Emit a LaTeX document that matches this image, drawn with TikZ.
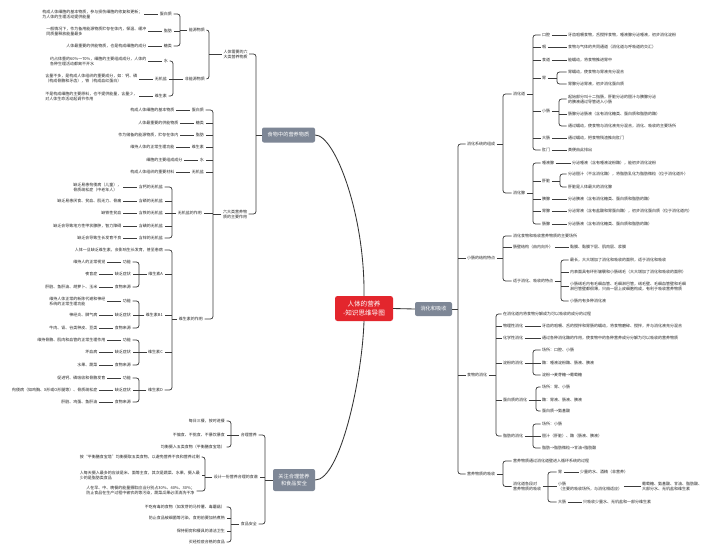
\documentclass[tikz,border=0pt]{standalone}
\usepackage{fontspec}
\setmainfont{Noto Sans CJK SC}
\usetikzlibrary{positioning}
\definecolor{lncol}{HTML}{3C3C3C}
\definecolor{gboxcol}{HTML}{7E8796}
\definecolor{rboxcol}{HTML}{E3262D}
\definecolor{txcol}{HTML}{262626}
\tikzset{
  lbl/.style={font=\fontsize{4}{5}\selectfont, text=txcol, inner sep=1.5pt},
  lt/.style={lbl, anchor=east, align=left},
  rt/.style={lbl, anchor=west, align=left},
  ct/.style={lbl, anchor=center, align=center},
  br/.style={draw=lncol, line width=0.75pt},
  cv/.style={draw=black!80, line width=0.85pt},
  gb/.style={fill=gboxcol, text=white, rounded corners=2pt, font=\fontsize{5.2}{6.5}\selectfont, align=center, inner sep=0pt},
  rootbox/.style={fill=rboxcol, text=white, rounded corners=2.5pt, minimum width=58pt, minimum height=25pt, font=\fontsize{6.6}{8.5}\selectfont, align=center, inner sep=0pt},
}
% left bracket: parent, bracket x, first child, last child, middle children
\newcommand\lbr[5]{%
  \draw[br] (#1.west) -- (#2,0 |- #1.west);
  \draw[br,rounded corners=2.5pt] (#3.east) -| (#2,0 |- #4.east) -- (#4.east);
  \def\mytmp{#5}\ifx\mytmp\empty\else
  \foreach \ch in {#5}{\draw[br] (#2,0 |- \ch.east) -- (\ch.east);}\fi}
% right bracket
\newcommand\rbr[5]{%
  \draw[br] (#1.east) -- (#2,0 |- #1.east);
  \draw[br,rounded corners=2.5pt] (#3.west) -| (#2,0 |- #4.west) -- (#4.west);
  \def\mytmp{#5}\ifx\mytmp\empty\else
  \foreach \ch in {#5}{\draw[br] (#2,0 |- \ch.west) -- (\ch.west);}\fi}
\newcommand\ld[2]{\draw[br] (#1.east) -- (#2.west);}
\begin{document}
\begin{tikzpicture}[x=1pt,y=-1pt]
\fill[white] (0,0) rectangle (720,555);
\useasboundingbox (0,0) rectangle (720,555);

% main boxes
\node[rootbox] (root) at (364,308.5) {人体的营养\\-知识思维导图};
\node[gb, minimum width=53pt, minimum height=15pt] (food) at (288.5,135) {食物中的营养物质};
\node[gb, minimum width=42pt, minimum height=22pt] (care) at (294,480) {关注合理营养\\和食品安全};
\node[gb, minimum width=37pt, minimum height=14pt] (dig) at (433.5,309) {消化和吸收};

\draw[cv] (food.east) .. controls (335,135) and (365,215) .. (root.north);
\draw[cv] (root.south) .. controls (362,380) and (340,480) .. (care.east);
\draw[cv] (root.east) -- (dig.west);

% ===== LEFT: 食物中的营养物质 =====
\node[ct] (six) at (235.5,54) {人体需要的六\\大类营养物质};
\node[lt] (ny) at (206.5,30) {能源物质};
\node[lt] (fny) at (206.5,79) {非能源物质};
\node[lt] (a1) at (173.5,14) {蛋白质};
\node[lt] (a2) at (173.5,31) {脂肪};
\node[lt] (a3) at (173.5,46) {糖类};
\node[lt,left=14pt of a1] (a1d) {构成人体细胞的基本物质，参与损伤细胞的修复和更新；\\为人体的生理活动提供能量};
\node[lt,left=14pt of a2] (a2d) {一般情况下，作为备用能源物质贮存在体内，保温、缓冲\\同质量释放能量最多};
\node[lt,left=14pt of a3] (a3d) {人体最重要的供能物质，也是构成细胞的成分};
\node[lt] (b1) at (169.5,61) {水};
\node[lt] (b2) at (168.5,79) {无机盐};
\node[lt] (b3) at (168.5,96) {维生素};
\node[lt,left=14pt of b1] (b1d) {约占体重的60\%～70\%，细胞的主要组成成分，人体的\\各种生理活动都离不开水};
\node[lt,left=14pt of b2] (b2d) {含量不多，是构成人体组织的重要成分，如：钙、磷\\（构成骨骼和牙齿），铁（构成血红蛋白）};
\node[lt,left=14pt of b3] (b3d) {不是构成细胞的主要原料，也不提供能量，含量少，\\对人体生命活动起调节作用};
\lbr{six}{209}{ny}{fny}{}
\lbr{ny}{180}{a1}{a3}{a2}
\lbr{fny}{173}{b1}{b3}{b2}
\ld{a1d}{a1}\ld{a2d}{a2}\ld{a3d}{a3}
\ld{b1d}{b1}\ld{b2d}{b2}\ld{b3d}{b3}

\node[ct] (effect) at (235,214) {六大类营养物\\质的主要作用};
\node[lt] (c1) at (205.5,110) {蛋白质};
\node[lt] (c2) at (205.5,123) {糖类};
\node[lt] (c3) at (205.5,135) {脂肪};
\node[lt] (c4) at (205.5,147) {维生素};
\node[lt] (c5) at (205.5,160) {水};
\node[lt] (c6) at (205.5,172) {无机盐};
\node[lt,left=14pt of c1] (c1d) {构成人体细胞的基本物质};
\node[lt,left=14pt of c2] (c2d) {人体最重要的供能物质};
\node[lt,left=14pt of c3] (c3d) {作为储备的能源物质，贮存在体内};
\node[lt,left=14pt of c4] (c4d) {维持人体的正常生理功能};
\node[lt,left=14pt of c5] (c5d) {细胞的主要组成成分};
\node[lt,left=14pt of c6] (c6d) {构成人体组织的重要材料};
\ld{c1d}{c1}\ld{c2d}{c2}\ld{c3d}{c3}\ld{c4d}{c4}\ld{c5d}{c5}\ld{c6d}{c6}
\node[lt] (inorg) at (203.5,213) {无机盐的作用};
\node[lt] (vit) at (204.5,319) {维生素的作用};
\lbr{effect}{213}{c1}{vit}{c2,c3,c4,c5,c6,inorg}
\lbr{food}{256}{six}{effect}{}

\node[lt] (d1) at (164.5,187) {含钙的无机盐};
\node[lt] (d2) at (164.5,201) {含磷的无机盐};
\node[lt] (d3) at (164.5,213) {含铁的无机盐};
\node[lt] (d4) at (164.5,226) {含碘的无机盐};
\node[lt] (d5) at (164.5,238) {含锌的无机盐};
\node[lt,left=14pt of d1] (d1d) {缺乏易患佝偻病（儿童），\\骨质疏松症（中老年人）};
\node[lt,left=14pt of d2] (d2d) {缺乏易患厌食、贫血、肌无力、骨痛};
\node[lt,left=14pt of d3] (d3d) {缺铁性贫血};
\node[lt,left=14pt of d4] (d4d) {缺乏会导致地方性甲状腺肿，智力障碍};
\node[lt,left=14pt of d5] (d5d) {缺乏会导致生长发育不良};
\ld{d1d}{d1}\ld{d2d}{d2}\ld{d3d}{d3}\ld{d4d}{d4}\ld{d5d}{d5}
\lbr{inorg}{172}{d1}{d5}{d2,d3,d4}

\node[lt] (v0) at (164.5,250) {人体一旦缺乏维生素，会影响生长发育，甚至患病};
\node[lt] (vA) at (164.5,274) {维生素A};
\node[lt] (vB) at (164.5,315) {维生素B1};
\node[lt] (vC) at (164.5,352) {维生素C};
\node[lt] (vD) at (164.5,390) {维生素D};
\lbr{vit}{172}{v0}{vD}{vA,vB,vC}

\node[lt] (vA1) at (132.5,262) {功能};
\node[lt] (vA2) at (132.5,274) {缺乏症状};
\node[lt] (vA3) at (132.5,287) {食物来源};
\node[lt,left=14pt of vA1] (vA1d) {维持人的正常视觉};
\node[lt,left=14pt of vA2] (vA2d) {夜盲症};
\node[lt,left=14pt of vA3] (vA3d) {肝脏、鱼肝油、胡萝卜、玉米};
\lbr{vA}{139}{vA1}{vA3}{vA2}
\ld{vA1d}{vA1}\ld{vA2d}{vA2}\ld{vA3d}{vA3}

\node[lt] (vB1) at (132.5,301) {功能};
\node[lt] (vB2) at (132.5,315) {缺乏症状};
\node[lt] (vB3) at (132.5,328) {食物来源};
\node[lt,left=14pt of vB1] (vB1d) {维持人体正常的新陈代谢和神经\\系统的正常生理功能};
\node[lt,left=14pt of vB2] (vB2d) {神经炎、脚气病};
\node[lt,left=14pt of vB3] (vB3d) {牛肉、肾、谷类种皮、豆类};
\lbr{vB}{139}{vB1}{vB3}{vB2}
\ld{vB1d}{vB1}\ld{vB2d}{vB2}\ld{vB3d}{vB3}

\node[lt] (vC1) at (132.5,340) {功能};
\node[lt] (vC2) at (132.5,352) {缺乏症状};
\node[lt] (vC3) at (132.5,365) {食物来源};
\node[lt,left=14pt of vC1] (vC1d) {维持骨骼、肌肉和血管的正常生理作用};
\node[lt,left=14pt of vC2] (vC2d) {坏血病};
\node[lt,left=14pt of vC3] (vC3d) {水果、蔬菜};
\lbr{vC}{139}{vC1}{vC3}{vC2}
\ld{vC1d}{vC1}\ld{vC2d}{vC2}\ld{vC3d}{vC3}

\node[lt] (vD1) at (132.5,378) {功能};
\node[lt] (vD2) at (132.5,390) {缺乏症状};
\node[lt] (vD3) at (132.5,402) {食物来源};
\node[lt,left=14pt of vD1] (vD1d) {促进钙、磷吸收和骨骼发育};
\node[lt,left=14pt of vD2] (vD2d) {佝偻病（如鸡胸、X形或O形腿等）、骨质疏松症};
\node[lt,left=14pt of vD3] (vD3d) {肝脏、鸡蛋、鱼肝油};
\lbr{vD}{139}{vD1}{vD3}{vD2}
\ld{vD1d}{vD1}\ld{vD2d}{vD2}\ld{vD3d}{vD3}

% ===== LEFT: 关注合理营养和食品安全 =====
\node[lt] (h1) at (258.5,435) {合理营养};
\node[lt] (h2) at (259.5,477) {设计一份营养合理的食谱};
\node[lt] (h3) at (258.5,524) {食品安全};
\lbr{care}{265}{h1}{h3}{h2}
\node[lt] (h11) at (226.5,421) {每日三餐，按时进餐};
\node[lt] (h12) at (226.5,435) {不偏食、不挑食、不暴饮暴食};
\node[lt] (h13) at (226.5,447) {均衡摄入五类食物（平衡膳食宝塔）};
\lbr{h1}{231}{h11}{h13}{h12}
\node[lt] (h21) at (201.5,457) {按“平衡膳食宝塔”均衡摄取五类食物，以避免营养不良和营养过剩};
\node[lt] (h22) at (201.5,475) {人每天摄入最多的应该是米、面等主食，其次是蔬菜、水果，摄入最\\少的是脂肪类食品};
\node[lt] (h23) at (196.5,491) {人在早、中、晚餐的能量摄取应当分别占30\%、40\%、30\%；\\防止食品在生产过程中被农药等污染，蔬菜瓜果必须清洗干净};
\lbr{h2}{205}{h21}{h23}{h22}
\node[lt] (h31) at (226.5,507) {不吃有毒的食物（如发芽的马铃薯、毒蘑菇）};
\node[lt] (h32) at (226.5,518) {防止食品被细菌等污染，食用前要加热煮熟};
\node[lt] (h33) at (226.5,531) {保持厨房和餐具的清洁卫生};
\node[lt] (h34) at (226.5,542) {买经检疫合格的食品};
\lbr{h3}{231}{h31}{h34}{h32,h33}

% ===== RIGHT: 消化和吸收 =====
\node[rt] (s1) at (465.5,144) {消化系统的组成};
\node[rt] (s2) at (465.5,258) {小肠的结构特点};
\node[rt] (s3) at (465.5,375) {食物的消化};
\node[rt] (s4) at (465.5,474) {营养物质的吸收};
\rbr{dig}{458}{s1}{s4}{s2,s3}

\node[rt] (e1) at (511.5,94) {消化道};
\node[rt] (e2) at (511.5,193) {消化腺};
\rbr{s1}{503}{e1}{e2}{}

\node[rt] (f1) at (540.5,35) {口腔};
\node[rt] (f2) at (540.5,47) {咽};
\node[rt] (f3) at (540.5,60) {食道};
\node[rt] (f4) at (540.5,78) {胃};
\node[rt] (f5) at (540.5,111) {小肠};
\node[rt] (f6) at (540.5,138) {大肠};
\node[rt] (f7) at (540.5,150) {肛门};
\rbr{e1}{533}{f1}{f7}{f2,f3,f4,f5,f6}
\node[rt] (f1d) at (566.5,35) {牙齿咀嚼食物，舌搅拌食物，唾液腺分泌唾液，初步消化淀粉};
\node[rt] (f2d) at (566.5,47) {食物与气体的共同通道（消化道与呼吸道的交汇）};
\node[rt] (f3d) at (566.5,60) {能蠕动，将食物推进胃中};
\ld{f1}{f1d}\ld{f2}{f2d}\ld{f3}{f3d}
\node[rt] (f4a) at (566.5,72) {胃蠕动，使食物与胃液充分混合};
\node[rt] (f4b) at (566.5,84) {胃腺分泌胃液，初步消化蛋白质};
\rbr{f4}{557}{f4a}{f4b}{}
\node[rt] (f5a) at (566.5,99) {起始部分叫十二指肠，肝脏分泌的胆汁与胰腺分泌\\的胰液通过导管进入小肠};
\node[rt] (f5b) at (566.5,114) {肠腺分泌肠液（含有消化糖类、蛋白质和脂肪的酶）};
\node[rt] (f5c) at (566.5,126) {通过蠕动，使食物与消化液充分混合，消化、吸收的主要场所};
\rbr{f5}{559}{f5a}{f5c}{f5b}
\node[rt] (f6d) at (566.5,138) {通过蠕动，把食物残渣推向肛门};
\node[rt] (f7d) at (566.5,150) {粪便由此排出};
\ld{f6}{f6d}\ld{f7}{f7d}

\node[rt] (g1) at (540.5,163) {唾液腺};
\node[rt] (g2) at (540.5,181) {肝脏};
\node[rt] (g3) at (540.5,199) {胰腺};
\node[rt] (g4) at (540.5,211) {胃腺};
\node[rt] (g5) at (540.5,224) {肠腺};
\rbr{e2}{533}{g1}{g5}{g2,g3,g4}
\node[rt] (g1d) at (570.5,163) {分泌唾液（含有唾液淀粉酶），能初步消化淀粉};
\node[rt] (g2a) at (566.5,174) {分泌胆汁（不含消化酶），将脂肪乳化为脂肪微粒（位于消化道外）};
\node[rt] (g2b) at (566.5,187) {肝脏是人体最大的消化腺};
\rbr{g2}{560}{g2a}{g2b}{}
\node[rt] (g3d) at (566.5,199) {分泌胰液（含有消化糖类、蛋白质和脂肪的酶）};
\node[rt] (g4d) at (566.5,211) {分泌胃液（含有盐酸和胃蛋白酶），初步消化蛋白质（位于消化道内）};
\node[rt] (g5d) at (566.5,224) {分泌肠液（含有消化糖类、蛋白质和脂肪的酶）};
\ld{g1}{g1d}\ld{g3}{g3d}\ld{g4}{g4d}\ld{g5}{g5d}

\node[rt] (k1) at (511.5,236) {消化食物和吸收营养物质的主要场所};
\node[rt] (k2) at (511.5,247) {肠壁结构（由内向外）};
\node[rt] (k3) at (511.5,281) {适于消化、吸收的特点};
\rbr{s2}{503}{k1}{k3}{k2}
\node[rt] (k2d) at (568.5,247) {黏膜、黏膜下层、肌肉层、浆膜};
\ld{k2}{k2d}
\node[rt] (m1) at (568.5,260) {最长，大大增加了消化和吸收的面积，适于消化和吸收};
\node[rt] (m2) at (568.5,272) {内表面具有环形皱襞和小肠绒毛（大大增加了消化和吸收的面积）};
\node[rt] (m3) at (568.5,286.5) {小肠绒毛内有毛细血管、毛细淋巴管，绒毛壁、毛细血管壁和毛细\\淋巴管壁都很薄，只由一层上皮细胞构成，有利于吸收营养物质};
\node[rt] (m4) at (568.5,301) {小肠内有多种消化液};
\rbr{k3}{561}{m1}{m4}{m2,m3}

\node[rt] (p0) at (501.5,314) {在消化道内将食物分解成为可以吸收的成分的过程};
\node[rt] (p1) at (501.5,326) {物理性消化};
\node[rt] (p2) at (501.5,338) {化学性消化};
\node[rt] (p3) at (501.5,363) {淀粉的消化};
\node[rt] (p4) at (501.5,400) {蛋白质的消化};
\node[rt] (p5) at (501.5,436) {脂肪的消化};
\rbr{s3}{496}{p0}{p5}{p1,p2,p3,p4}
\node[rt] (p1d) at (540.5,326) {牙齿的咀嚼、舌的搅拌和胃肠的蠕动，将食物磨碎、搅拌，并与消化液充分混合};
\node[rt] (p2d) at (540.5,338) {通过各种消化酶的作用，使食物中的各种营养成分分解为可以吸收的营养物质};
\ld{p1}{p1d}\ld{p2}{p2d}
\node[rt] (p31) at (540.5,350) {场所：口腔、小肠};
\node[rt] (p32) at (540.5,363) {酶：唾液淀粉酶、肠液、胰液};
\node[rt] (p33) at (540.5,375) {淀粉→麦芽糖→葡萄糖};
\rbr{p3}{533}{p31}{p33}{p32}
\node[rt] (p41) at (540.5,387) {场所：胃、小肠};
\node[rt] (p42) at (540.5,400) {酶：胃液、肠液、胰液};
\node[rt] (p43) at (540.5,411) {蛋白质→氨基酸};
\rbr{p4}{536}{p41}{p43}{p42}
\node[rt] (p51) at (540.5,424) {场所：小肠};
\node[rt] (p52) at (540.5,436) {胆汁（肝脏）、酶（肠液、胰液）};
\node[rt] (p53) at (540.5,448) {脂肪→脂肪微粒→甘油+脂肪酸};
\rbr{p5}{533}{p51}{p53}{p52}

\node[rt] (q1) at (511.5,461) {营养物质通过消化道壁进入循环系统的过程};
\node[rt] (q2) at (511.5,486.5) {消化道各段对\\营养物质的吸收};
\rbr{s4}{503}{q1}{q2}{}
\node[rt] (r1) at (556.5,472) {胃};
\node[rt] (r2) at (556.5,486.5) {小肠\\（主要的吸收场所，与消化相适应）};
\node[rt] (r3) at (556.5,502) {大肠};
\rbr{q2}{548}{r1}{r3}{r2}
\node[rt] (r1d) at (578.5,472) {少量的水、酒精（非营养）};
\node[rt] (r2d) at (640.5,486.5) {葡萄糖、氨基酸、甘油、脂肪酸、\\大部分水、无机盐和维生素};
\node[rt] (r3d) at (581.5,502) {只吸收少量水、无机盐和一部分维生素};
\ld{r1}{r1d}\ld{r2}{r2d}\ld{r3}{r3d}
\end{tikzpicture}
\end{document}
